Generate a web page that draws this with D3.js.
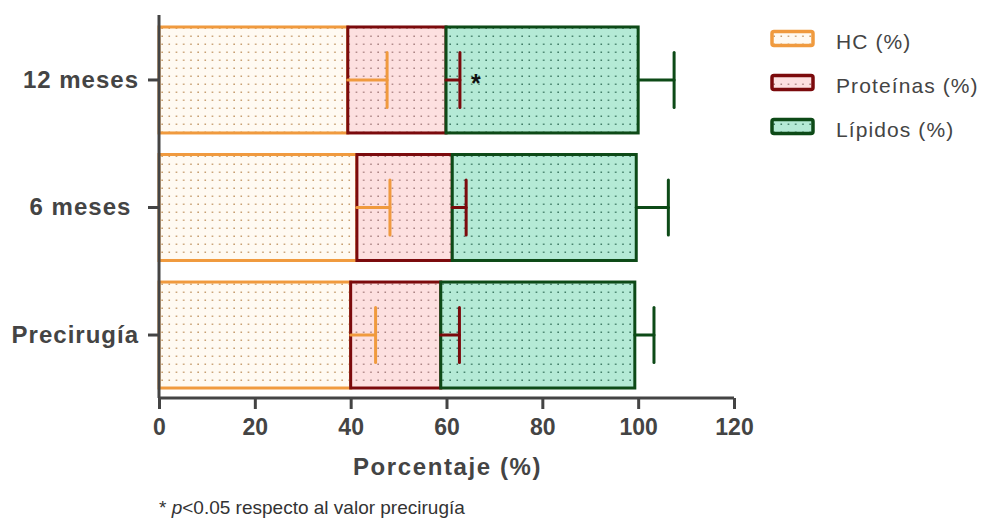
<!DOCTYPE html>
<html>
<head>
<meta charset="utf-8">
<script src="https://cdnjs.cloudflare.com/ajax/libs/d3/7.8.5/d3.min.js"></script>
<style>
  html, body { margin: 0; padding: 0; background: #fff; }
  svg { display: block; }
</style>
</head>
<body>
<svg id="chart" width="989" height="520"></svg>
<script>
// Macronutrient distribution (% of energy) per time point
const groups = ["12 meses", "6 meses ", "Precirugía"];
const seriesNames = ["HC (%)", "Proteínas (%)", "Lípidos (%)"];
const hc       = [39.4, 41.3, 40.0];
const proteins = [20.5, 19.9, 18.8];
const lipids   = [40.1, 38.4, 40.5];
const hcErr      = [8.2, 6.9, 5.2];
const proteinErr = [2.9, 2.9, 3.9];
const lipidErr   = [7.5, 6.7, 4.0];
const significant = [true, false, false];
const xTicks = [0, 20, 40, 60, 80, 100, 120];
const footnote = "p<0.05 respecto al valor precirugía";

const strokes = ["#f09a3e", "#7b0a0c", "#0d4a17"];
const fills   = ["#fffaf2", "#fde0e0", "#b5ead6"];
const dots    = ["#c49a6a", "#a88080", "#3a7660"];

const svg = d3.select("#chart");
const plotLeft = 159, plotRight = 734, plotTop = 15, plotBottom = 398;

const x = d3.scaleLinear().domain([0, 120]).range([plotLeft, plotRight]);
const y = d3.scaleBand().domain(groups).range([plotTop, 400]).paddingInner(0.169).paddingOuter(0.094);

// dotted fill patterns
const defs = svg.append("defs");
fills.forEach((f, i) => {
  const p = defs.append("pattern").attr("id", "dots" + i)
    .attr("patternUnits", "userSpaceOnUse").attr("width", 7.2).attr("height", 8);
  p.append("rect").attr("width", 7.2).attr("height", 8).attr("fill", f);
  p.append("rect").attr("x", 3).attr("y", 3.5).attr("width", 1.5).attr("height", 1.5).attr("fill", dots[i]);
});

// build stacked segments
const rows = groups.map((g, i) => {
  const vals = [hc[i], proteins[i], lipids[i]];
  const errs = [hcErr[i], proteinErr[i], lipidErr[i]];
  let acc = 0;
  return vals.map((v, k) => {
    const seg = { g, k, x0: acc, x1: acc + v, err: errs[k] };
    acc += v;
    return seg;
  });
});
const segs = rows.flat();

const bars = svg.append("g");
bars.selectAll("rect").data(segs).join("rect")
  .attr("x", d => x(d.x0))
  .attr("y", d => y(d.g))
  .attr("width", d => x(d.x1) - x(d.x0))
  .attr("height", y.bandwidth())
  .attr("fill", d => `url(#dots${d.k})`)
  .attr("stroke", d => strokes[d.k])
  .attr("stroke-width", 3);

// error bars (one-sided, to the right)
const eb = svg.append("g").attr("stroke-linecap", "round");
segs.forEach(d => {
  const cy = y(d.g) + y.bandwidth() / 2;
  const capH = y.bandwidth() * 0.26;
  eb.append("line").attr("x1", x(d.x1)).attr("x2", x(d.x1 + d.err))
    .attr("y1", cy).attr("y2", cy).attr("stroke", strokes[d.k]).attr("stroke-width", 3);
  eb.append("line").attr("x1", x(d.x1 + d.err)).attr("x2", x(d.x1 + d.err))
    .attr("y1", cy - capH).attr("y2", cy + capH).attr("stroke", strokes[d.k]).attr("stroke-width", 3);
});

// significance marker
groups.forEach((g, i) => {
  if (!significant[i]) return;
  const s = rows[i][1];
  svg.append("text").attr("x", x(s.x1 + s.err) + 16).attr("y", y(g) + y.bandwidth() / 2 + 12)
    .attr("font-family", "Liberation Sans, Arial, sans-serif").attr("font-weight", "bold")
    .attr("font-size", 25).attr("fill", "#111").attr("text-anchor", "middle").text("*");
});

// axes
const axisColor = "#444";
const xAxis = svg.append("g").attr("transform", `translate(0,${plotBottom})`)
  .call(d3.axisBottom(x).tickValues(xTicks).tickSize(11).tickPadding(9.5).tickSizeOuter(0));
xAxis.select(".domain").attr("stroke", axisColor).attr("stroke-width", 3).attr("d", `M${plotLeft},0H${plotRight}`);
xAxis.selectAll(".tick line").attr("stroke", axisColor).attr("stroke-width", 3);
xAxis.selectAll(".tick text").attr("fill", axisColor)
  .attr("font-family", "Liberation Sans, Arial, sans-serif").attr("font-weight", "bold").attr("font-size", 23);

const yAxis = svg.append("g").attr("transform", `translate(${plotLeft},0)`)
  .call(d3.axisLeft(y).tickSize(11).tickPadding(9).tickSizeOuter(0));
yAxis.select(".domain").attr("stroke", axisColor).attr("stroke-width", 3).attr("d", `M0,${plotTop}V${plotBottom}`);
yAxis.selectAll(".tick line").attr("stroke", axisColor).attr("stroke-width", 3);
yAxis.selectAll(".tick text").attr("fill", axisColor).style("white-space", "pre")
  .attr("font-family", "Liberation Sans, Arial, sans-serif").attr("font-weight", "bold")
  .attr("font-size", 24).attr("letter-spacing", 1);

// axis title
svg.append("text").attr("x", (plotLeft + plotRight) / 2 + 1).attr("y", 475).attr("text-anchor", "middle")
  .attr("fill", axisColor).attr("font-family", "Liberation Sans, Arial, sans-serif")
  .attr("font-weight", "bold").attr("font-size", 24).attr("letter-spacing", 1.6).text("Porcentaje (%)");

// footnote
const fn = svg.append("text").attr("x", 159).attr("y", 514).attr("fill", "#333")
  .attr("font-family", "Liberation Sans Narrow, Arial Narrow, Liberation Sans, sans-serif").attr("font-size", 19);
fn.append("tspan").text("* ");
fn.append("tspan").attr("font-style", "italic").text("p");
fn.append("tspan").text(footnote.slice(1));

// legend
const legend = svg.append("g");
seriesNames.forEach((name, i) => {
  const ly = 38.5 + i * 44;
  legend.append("rect").attr("x", 772).attr("y", ly - 7).attr("width", 41).attr("height", 14)
    .attr("rx", 2).attr("fill", `url(#dots${i})`).attr("stroke", strokes[i]).attr("stroke-width", 3.5);
  legend.append("text").attr("x", 836).attr("y", ly + 10).attr("fill", axisColor)
    .attr("font-family", "Liberation Sans, Arial, sans-serif").attr("font-size", 21)
    .attr("letter-spacing", 1.1).text(name);
});
</script>
</body>
</html>
